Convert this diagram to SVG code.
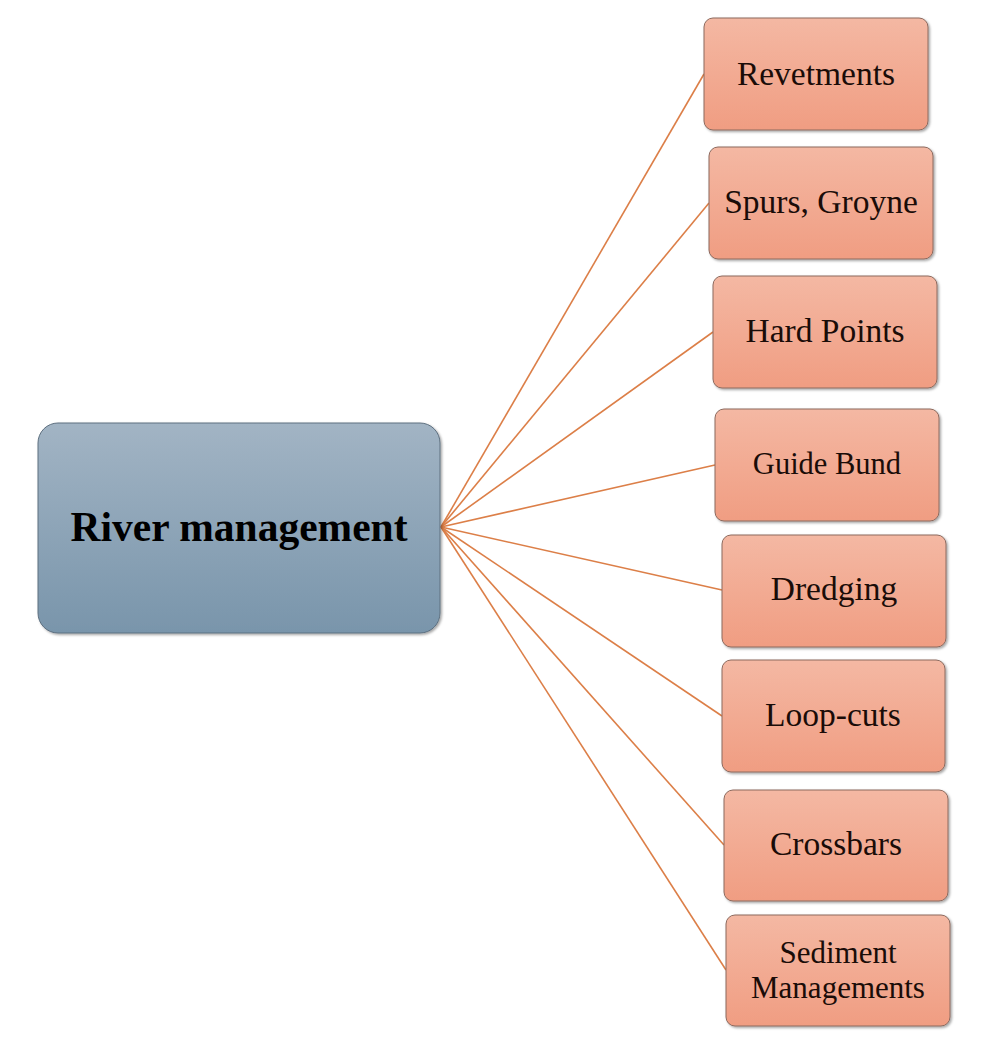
<svg xmlns="http://www.w3.org/2000/svg" width="986" height="1049" viewBox="0 0 986 1049">
<defs>
<linearGradient id="gBlue" x1="0" y1="0" x2="0" y2="1">
<stop offset="0" stop-color="#a2b4c4"/>
<stop offset="1" stop-color="#7995ab"/>
</linearGradient>
<linearGradient id="gSalmon" x1="0" y1="0" x2="0" y2="1">
<stop offset="0" stop-color="#f4b8a3"/>
<stop offset="1" stop-color="#f09d82"/>
</linearGradient>
<filter id="sh" x="-5%" y="-5%" width="115%" height="115%">
<feDropShadow dx="1.5" dy="1.5" stdDeviation="1" flood-color="#000" flood-opacity="0.35"/>
</filter>
</defs>
<style>
.leaf{fill:url(#gSalmon);stroke:#8c6a5e;stroke-width:1;filter:url(#sh)}
.root{fill:url(#gBlue);stroke:#5e7080;stroke-width:1;filter:url(#sh)}
.lt{font-family:"Liberation Serif","Times New Roman",serif;font-size:33.5px;fill:#1a0c08;text-anchor:middle}
.rt{font-family:"Liberation Serif","Times New Roman",serif;font-size:41.5px;font-weight:bold;fill:#000;text-anchor:middle}
.conn line{stroke:#dc7f48;stroke-width:1.6}
</style>
<rect width="986" height="1049" fill="#fff"/>
<g id="connectors" class="conn">
<line x1="441" y1="527" x2="704" y2="74"/>
<line x1="441" y1="527" x2="709" y2="203"/>
<line x1="441" y1="527" x2="713" y2="332"/>
<line x1="441" y1="527" x2="715" y2="465"/>
<line x1="441" y1="527" x2="722" y2="590"/>
<line x1="441" y1="527" x2="722" y2="716"/>
<line x1="441" y1="527" x2="724" y2="845"/>
<line x1="441" y1="527" x2="726" y2="970"/>
</g>
<g id="river-management">
<rect class="root" x="38" y="423" width="402" height="210" rx="20"/>
<text class="rt" x="239" y="541">River management</text>
</g>
<g id="revetments">
<rect class="leaf" x="704" y="18" width="224" height="112" rx="9"/>
<text class="lt" x="816" y="85">Revetments</text>
</g>
<g id="spurs-groyne">
<rect class="leaf" x="709" y="147" width="224" height="112" rx="9"/>
<text class="lt" x="821" y="213">Spurs, Groyne</text>
</g>
<g id="hard-points">
<rect class="leaf" x="713" y="276" width="224" height="112" rx="9"/>
<text class="lt" x="825" y="342">Hard Points</text>
</g>
<g id="guide-bund">
<rect class="leaf" x="715" y="409" width="224" height="112" rx="9"/>
<text class="lt" x="827" y="474" style="font-size:30.5px">Guide Bund</text>
</g>
<g id="dredging">
<rect class="leaf" x="722" y="535" width="224" height="112" rx="9"/>
<text class="lt" x="834" y="600">Dredging</text>
</g>
<g id="loop-cuts">
<rect class="leaf" x="722" y="660" width="223" height="112" rx="9"/>
<text class="lt" x="833" y="726">Loop-cuts</text>
</g>
<g id="crossbars">
<rect class="leaf" x="724" y="790" width="224" height="111" rx="9"/>
<text class="lt" x="836" y="855">Crossbars</text>
</g>
<g id="sediment-managements">
<rect class="leaf" x="726" y="915" width="224" height="111" rx="9"/>
<text class="lt" x="838" y="963" style="font-size:31px">Sediment</text>
<text class="lt" x="838" y="998" style="font-size:31px">Managements</text>
</g>
</svg>
